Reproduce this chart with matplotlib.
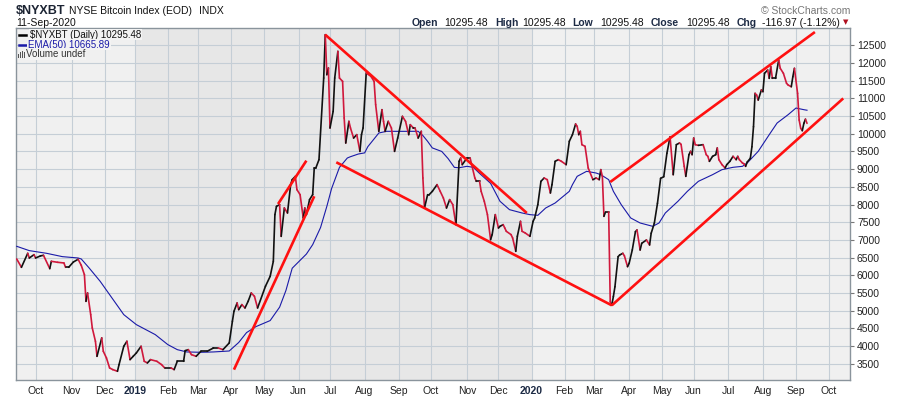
import numpy as np
import pandas as pd
import matplotlib
matplotlib.use('Agg')
import matplotlib.pyplot as plt
from matplotlib.collections import LineCollection
from matplotlib.patches import Rectangle

plt.rcParams['font.family'] = ['Liberation Sans', 'DejaVu Sans']

# NYSE closed days inside the chart window (x axis runs on trading sessions)
holidays = ['2018-11-22', '2018-12-05', '2018-12-25',
            '2019-01-01', '2019-01-21', '2019-02-18', '2019-04-19', '2019-05-27',
            '2019-07-04', '2019-09-02', '2019-11-28', '2019-12-25',
            '2020-01-01', '2020-01-20', '2020-02-17', '2020-04-10', '2020-05-25',
            '2020-07-03', '2020-09-07']

# $NYXBT closes
price_dates = [
    '2018-09-13', '2018-09-18', '2018-09-24', '2018-09-25', '2018-09-28', '2018-10-01',
    '2018-10-04', '2018-10-08', '2018-10-12', '2018-10-15', '2018-10-19', '2018-10-25',
    '2018-10-26', '2018-10-30', '2018-11-02', '2018-11-07', '2018-11-09', '2018-11-13',
    '2018-11-14', '2018-11-15', '2018-11-19', '2018-11-20', '2018-11-23', '2018-11-26',
    '2018-11-29', '2018-11-30', '2018-12-04', '2018-12-07', '2018-12-11', '2018-12-14',
    '2018-12-17', '2018-12-20', '2018-12-24', '2018-12-27', '2018-12-31', '2019-01-03',
    '2019-01-08', '2019-01-10', '2019-01-14', '2019-01-16', '2019-01-23', '2019-01-28',
    '2019-01-30', '2019-02-05', '2019-02-07', '2019-02-11', '2019-02-15', '2019-02-19',
    '2019-02-21', '2019-02-25', '2019-02-28', '2019-03-05', '2019-03-11', '2019-03-15',
    '2019-03-20', '2019-03-25', '2019-03-29', '2019-04-02', '2019-04-03', '2019-04-05',
    '2019-04-08', '2019-04-10', '2019-04-12', '2019-04-16', '2019-04-18', '2019-04-23',
    '2019-04-25', '2019-05-02', '2019-05-07', '2019-05-09', '2019-05-10', '2019-05-13',
    '2019-05-15', '2019-05-16', '2019-05-20', '2019-05-22', '2019-05-24', '2019-05-28',
    '2019-05-30', '2019-05-31', '2019-06-04', '2019-06-06', '2019-06-07', '2019-06-10',
    '2019-06-12', '2019-06-14', '2019-06-17', '2019-06-18', '2019-06-20', '2019-06-25',
    '2019-06-26', '2019-06-27', '2019-06-28', '2019-07-01', '2019-07-03', '2019-07-05',
    '2019-07-09', '2019-07-10', '2019-07-12', '2019-07-15', '2019-07-16', '2019-07-18',
    '2019-07-19', '2019-07-23', '2019-07-25', '2019-07-29', '2019-07-30', '2019-07-31',
    '2019-08-02', '2019-08-07', '2019-08-09', '2019-08-12', '2019-08-14', '2019-08-16',
    '2019-08-19', '2019-08-20', '2019-08-22', '2019-08-26', '2019-08-28', '2019-08-30',
    '2019-09-05', '2019-09-09', '2019-09-11', '2019-09-12', '2019-09-16', '2019-09-17',
    '2019-09-19', '2019-09-23', '2019-09-24', '2019-09-25', '2019-09-27', '2019-09-30',
    '2019-10-02', '2019-10-07', '2019-10-09', '2019-10-11', '2019-10-15', '2019-10-17',
    '2019-10-21', '2019-10-23', '2019-10-25', '2019-10-28', '2019-10-29', '2019-11-01',
    '2019-11-05', '2019-11-06', '2019-11-08', '2019-11-11', '2019-11-13', '2019-11-14',
    '2019-11-18', '2019-11-20', '2019-11-22', '2019-11-25', '2019-11-27', '2019-12-02',
    '2019-12-03', '2019-12-05', '2019-12-06', '2019-12-09', '2019-12-12', '2019-12-13',
    '2019-12-17', '2019-12-18', '2019-12-20', '2019-12-23', '2019-12-26', '2019-12-31',
    '2020-01-03', '2020-01-06', '2020-01-08', '2020-01-10', '2020-01-14', '2020-01-16',
    '2020-01-21', '2020-01-22', '2020-01-24', '2020-01-28', '2020-01-30', '2020-02-04',
    '2020-02-06', '2020-02-10', '2020-02-12', '2020-02-13', '2020-02-14', '2020-02-18',
    '2020-02-19', '2020-02-21', '2020-02-25', '2020-02-28', '2020-03-03', '2020-03-05',
    '2020-03-06', '2020-03-09', '2020-03-10', '2020-03-11', '2020-03-13', '2020-03-16',
    '2020-03-17', '2020-03-18', '2020-03-19', '2020-03-23', '2020-03-24', '2020-03-26',
    '2020-03-27', '2020-03-31', '2020-04-01', '2020-04-03', '2020-04-07', '2020-04-08',
    '2020-04-13', '2020-04-14', '2020-04-17', '2020-04-21', '2020-04-22', '2020-04-24',
    '2020-04-28', '2020-04-30', '2020-05-04', '2020-05-06', '2020-05-08', '2020-05-12',
    '2020-05-14', '2020-05-18', '2020-05-19', '2020-05-21', '2020-05-22', '2020-05-27',
    '2020-05-28', '2020-05-29', '2020-06-01', '2020-06-02', '2020-06-04', '2020-06-09',
    '2020-06-11', '2020-06-12', '2020-06-15', '2020-06-17', '2020-06-19', '2020-06-22',
    '2020-06-23', '2020-06-25', '2020-06-29', '2020-06-30', '2020-07-02', '2020-07-07',
    '2020-07-09', '2020-07-10', '2020-07-13', '2020-07-15', '2020-07-16', '2020-07-17',
    '2020-07-20', '2020-07-22', '2020-07-23', '2020-07-24', '2020-07-27', '2020-07-28',
    '2020-07-29', '2020-07-31', '2020-08-03', '2020-08-04', '2020-08-06', '2020-08-07',
    '2020-08-10', '2020-08-11', '2020-08-13', '2020-08-17', '2020-08-18', '2020-08-20',
    '2020-08-24', '2020-08-25', '2020-08-27', '2020-08-28', '2020-08-31', '2020-09-02',
    '2020-09-03', '2020-09-04', '2020-09-08', '2020-09-09', '2020-09-10', '2020-09-11']
price_values = [
    6461, 6226, 6621, 6489, 6583, 6489,
    6546, 6565, 6188, 6395, 6367, 6348,
    6226, 6226, 6376, 6452, 6282, 6018,
    5264, 5500, 4888, 4511, 4135, 3710,
    4229, 3852, 3663, 3381, 3334, 3287,
    3475, 3993, 4135, 3616, 3710, 3805,
    3993, 3569, 3522, 3616, 3569, 3475,
    3381, 3381, 3334, 3569, 3569, 3870,
    3898, 3757, 3710, 3852, 3852, 3946,
    3946, 3898, 4087, 4699, 4982, 5218,
    5029, 5171, 5076, 5264, 5500, 5406,
    5076, 5689, 5971, 6395, 7714, 7949,
    7997, 7101, 7902, 7761, 8562, 8703,
    8797, 8420, 8279, 7620, 7902, 7714,
    8138, 8279, 9033, 9033, 9268, 11576,
    12801, 11670, 11859, 10163, 10634, 11576,
    12330, 11576, 11482, 10446, 9739, 10351,
    10163, 9880, 9975, 9503, 9975, 10163,
    11717, 11623, 11482, 10822, 10069, 10681,
    10351, 10069, 10351, 10163, 9503, 9880,
    10493, 10351, 9975, 10257, 10163, 10163,
    9880, 10069, 8750, 7902, 8279, 8279,
    8373, 8562, 8373, 8185, 7902, 8138,
    7996, 7431, 9221, 9315, 9127, 9315,
    9315, 9127, 8750, 8656, 8656, 8373,
    8091, 7714, 7007, 7149, 7714, 7337,
    7384, 7431, 7337, 7243, 7149, 7054,
    6678, 7102, 7525, 7243, 7196, 7102,
    7525, 7620, 7996, 8656, 8750, 8703,
    8326, 8562, 9221, 9268, 9221, 9127,
    9786, 9975, 10276, 10210, 9975, 10069,
    9692, 9645, 9033, 8703, 8750, 8703,
    8986, 8797, 7667, 7789, 7789, 5250,
    5161, 5400, 5678, 6526, 6574, 6621,
    6550, 6244, 6338, 6715, 7232, 7281,
    6715, 6904, 6998, 6857, 7187, 7470,
    8035, 8741, 8786, 9448, 9917, 8844,
    9692, 9739, 9700, 9080, 8797, 9409,
    9504, 9409, 9880, 9692, 9673, 9692,
    9409, 9362, 9221, 9362, 9409, 9598,
    9268, 9127, 9033, 9127, 9221, 9362,
    9268, 9362, 9268, 9174, 9150, 9080,
    9200, 9307, 9634, 10200, 11143, 11095,
    10954, 11237, 11190, 11709, 11802, 11567,
    11895, 11567, 11567, 12085, 11850, 11709,
    11426, 11378, 11330, 11613, 11850, 11143,
    10389, 10154, 10087, 10296, 10412, 10295.48]

# EMA(50)
ema_dates = [
    '2018-09-13', '2018-09-25', '2018-10-10', '2018-10-24', '2018-11-07', '2018-11-09',
    '2018-11-16', '2018-11-28', '2018-12-12', '2018-12-20', '2019-01-03', '2019-01-22',
    '2019-02-01', '2019-02-11', '2019-02-20', '2019-03-05', '2019-03-15', '2019-03-29',
    '2019-04-08', '2019-04-15', '2019-04-24', '2019-05-07', '2019-05-15', '2019-05-21',
    '2019-05-28', '2019-06-10', '2019-06-14', '2019-06-21', '2019-06-27', '2019-07-02',
    '2019-07-10', '2019-07-17', '2019-07-19', '2019-07-26', '2019-08-01', '2019-08-05',
    '2019-08-13', '2019-08-14', '2019-08-21', '2019-08-30', '2019-09-10', '2019-09-19',
    '2019-09-24', '2019-09-27', '2019-10-02', '2019-10-10', '2019-10-16', '2019-10-22',
    '2019-10-25', '2019-11-01', '2019-11-07', '2019-11-13', '2019-11-22', '2019-12-03',
    '2019-12-11', '2019-12-23', '2019-12-31', '2020-01-08', '2020-01-15', '2020-01-24',
    '2020-02-06', '2020-02-10', '2020-02-13', '2020-02-24', '2020-03-03', '2020-03-06',
    '2020-03-13', '2020-03-18', '2020-03-25', '2020-04-02', '2020-04-13', '2020-04-23',
    '2020-04-29', '2020-05-05', '2020-05-15', '2020-05-26', '2020-06-04', '2020-06-17',
    '2020-06-25', '2020-07-07', '2020-07-15', '2020-07-20', '2020-07-29', '2020-08-07',
    '2020-08-14', '2020-08-25', '2020-09-01', '2020-09-03', '2020-09-09', '2020-09-11']
ema_values = [
    6819, 6697, 6621, 6527, 6489, 6461,
    6207, 5830, 5265, 4888, 4605, 4323,
    4040, 3898, 3833, 3823, 3833, 3860,
    4100, 4380, 4550, 4720, 5100, 5570,
    6200, 6600, 6866, 7350, 7950, 8450,
    9050, 9315, 9352, 9428, 9460, 9634,
    9965, 10022, 10070, 10069, 10069, 10070,
    9950, 9786, 9600, 9500, 9300, 9050,
    9040, 9080, 9052, 8880, 8600, 8091,
    7855, 7761, 7714, 7695, 7902, 8043,
    8373, 8562, 8797, 8939, 8891, 8844,
    8703, 8373, 7996, 7620, 7478, 7384,
    7478, 7761, 8091, 8373, 8656, 8844,
    8986, 9052, 9080, 9174, 9504, 9975,
    10304, 10540, 10728, 10709, 10681, 10665.89]

# hand drawn trend lines: start date, start value, end date, end value
trend_lines = [
    ('2019-05-14', 8015, '2019-06-10', 9240),
    ('2019-04-03', 3333, '2019-06-17', 8233),
    ('2019-06-26', 12800, '2019-12-27', 7761),
    ('2019-07-08', 9194, '2020-03-17', 5150),
    ('2020-03-17', 5150, '2020-10-14', 11000),
    ('2020-03-16', 8637, '2020-09-18', 12876),
]

y_ticks = list(range(3500, 12501, 500))

# trading session calendar
sessions = pd.bdate_range('2018-09-13', '2020-10-30')
sessions = sessions[~sessions.isin(pd.to_datetime(holidays))]


def to_pos(dates):
    return sessions.searchsorted(pd.to_datetime(dates))


W, H = 900, 396
fig = plt.figure(figsize=(W / 100, H / 100), dpi=100)
fig.patch.set_facecolor('white')


def fx(px):
    return px / W


def fy(py):
    return 1 - py / H


ax = fig.add_axes([fx(16), fy(380), (850 - 16) / W, (380 - 28) / H])

x0 = -0.45
x1 = to_pos(['2020-10-01'])[0] + 13.3
ax.set_xlim(x0, x1)
ax.set_ylim(3040, 12990)

# year bands
y19 = to_pos(['2019-01-02'])[0]
y20 = to_pos(['2020-01-02'])[0]
ax.axvspan(x0, y19, color='#f0f0f0', lw=0, zorder=0)
ax.axvspan(y19, y20, color='#e7e7e7', lw=0, zorder=0)
ax.axvspan(y20, x1, color='#f0f0f0', lw=0, zorder=0)

# month ticks
months = pd.date_range('2018-10-01', '2020-10-01', freq='MS')
month_pos = to_pos(months)
month_lbl = [str(m.year) if m.month == 1 else m.strftime('%b') for m in months]
ax.set_xticks(month_pos)
ax.set_xticklabels(month_lbl)
for t, m in zip(ax.get_xticklabels(), months):
    if m.month == 1:
        t.set_fontweight('bold')
        t.set_color('#1c2a44')
    else:
        t.set_color('#222222')

ax.set_yticks(y_ticks)
ax.set_yticklabels([str(v) for v in y_ticks])
ax.yaxis.tick_right()
ax.tick_params(axis='x', length=0, pad=4, labelsize=7.5)
ax.tick_params(axis='y', length=3, width=0.8, color='#777777', pad=2, labelsize=7.5,
               labelcolor='#222222')
ax.grid(True, color='#c5ced6', lw=0.8)
for s in ax.spines.values():
    s.set_color('#8a949c')
    s.set_linewidth(1)

# trend lines
for d0, v0, d1, v1 in trend_lines:
    p = to_pos([d0, d1])
    ax.plot(p, [v0, v1], color='#ff1010', lw=1.9, solid_capstyle='butt', zorder=4)

# EMA
ax.plot(to_pos(ema_dates), ema_values, color='#1a1aa8', lw=0.8, zorder=3)

# price, black on up days, red on down days
px = to_pos(price_dates)
py = np.array(price_values, dtype=float)
segs = [[(px[i], py[i]), (px[i + 1], py[i + 1])] for i in range(len(px) - 1)]
cols = ['#111111' if py[i + 1] >= py[i] else '#d0183c' for i in range(len(px) - 1)]
ax.add_collection(LineCollection(segs, colors=cols, linewidths=1.2, capstyle='round',
                                 joinstyle='round', zorder=3))

# legend block
fig.add_artist(plt.Line2D([fx(19), fx(26)], [fy(34.5), fy(34.5)], color='black', lw=1.8))
fig.text(fx(30), fy(34.5), '$NYXBT (Daily) 10295.48', fontsize=7, va='center',
         color='#111111', bbox=dict(facecolor='#f3f3f3', edgecolor='none', pad=0.6))
fig.add_artist(plt.Line2D([fx(19), fx(26)], [fy(44.5), fy(44.5)], color='#1a1aa8', lw=1.8))
fig.text(fx(28), fy(44.5), 'EMA(50) 10665.89', fontsize=7, va='center',
         color='#1a1aa8', bbox=dict(facecolor='#f3f3f3', edgecolor='none', pad=0.6))
for bx, bh in [(17.5, 4), (19.5, 6), (21.5, 7), (23.5, 5)]:
    fig.add_artist(Rectangle((fx(bx), fy(57.5)), 1.3 / W, bh / H, color='#555555', lw=0))
fig.text(fx(26), fy(54), 'Volume undef', fontsize=7, va='center',
         color='#333333', bbox=dict(facecolor='#f3f3f3', edgecolor='none', pad=0.6))

# header
fig.text(fx(16), fy(10.5), '$NYXBT', fontsize=9, weight='bold', va='center', color='#1c2433')
fig.text(fx(69), fy(11), 'NYSE Bitcoin Index (EOD)', fontsize=7.5, va='center', color='#111111')
fig.text(fx(199), fy(11), 'INDX', fontsize=7.5, va='center', color='#111111')
fig.text(fx(16), fy(23), '11-Sep-2020', fontsize=7.5, va='center', color='#111111')
fig.text(fx(850), fy(10.5), '\u00a9 StockCharts.com', fontsize=7.5, va='center', ha='right',
         color='#777777')

header = [('Open', 412, True), ('10295.48', 444.5, False),
          ('High', 495, True), ('10295.48', 522.7, False),
          ('Low', 572.7, True), ('10295.48', 600.7, False),
          ('Close', 650.7, True), ('10295.48', 686.7, False),
          ('Chg', 736.7, True), ('-116.97 (-1.12%)', 761.7, False)]
for txt, xp, bold in header:
    fig.text(fx(xp), fy(22.5), txt, fontsize=7.5, va='center',
             weight='bold' if bold else 'normal',
             color='#1c2a44' if bold else '#111111')
fig.text(fx(843), fy(22.5), '\u25bc', fontsize=5, va='center', color='#b01020',
         family='DejaVu Sans')

fig.savefig('out.png', dpi=100)
